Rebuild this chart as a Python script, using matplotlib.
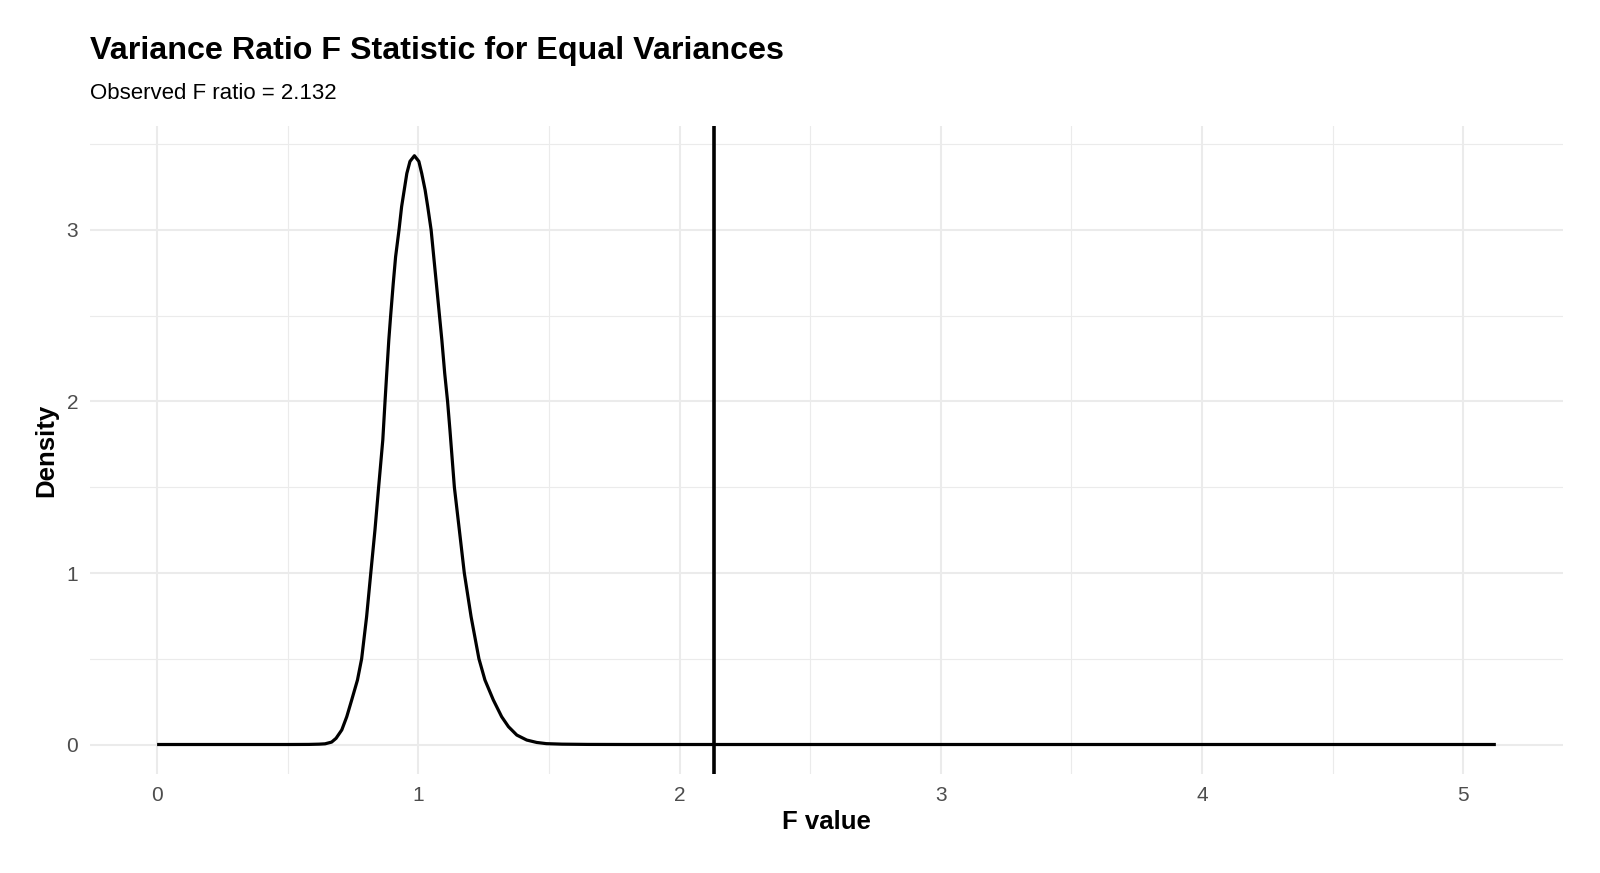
import matplotlib
matplotlib.use("Agg")
import matplotlib.pyplot as plt
from matplotlib.ticker import MultipleLocator

plt.rcParams['font.family'] = ['Liberation Sans', 'DejaVu Sans']

# Density curve values
f_values = [0.0, 0.5, 0.58, 0.62, 0.643, 0.668, 0.685, 0.707, 0.726, 0.745, 0.767,
            0.783, 0.802, 0.818, 0.834, 0.848, 0.864, 0.8725, 0.879, 0.887, 0.894,
            0.904, 0.913, 0.926, 0.936, 0.946, 0.956, 0.968, 0.985, 1.002, 1.013,
            1.026, 1.036, 1.049, 1.059, 1.069, 1.081, 1.090, 1.101, 1.112, 1.121,
            1.138, 1.157, 1.176, 1.202, 1.232, 1.255, 1.287, 1.319, 1.345, 1.377,
            1.415, 1.453, 1.49, 1.55, 1.65, 1.8, 5.125]
density = [0.0, 0.0, 0.0005, 0.002, 0.004, 0.014, 0.036, 0.085, 0.162, 0.26, 0.376,
           0.5, 0.745, 1.0, 1.251, 1.5, 1.776, 2.0, 2.164, 2.359, 2.5,
           2.689, 2.844, 3.0, 3.136, 3.233, 3.33, 3.40, 3.433, 3.40, 3.33,
           3.233, 3.136, 3.0, 2.844, 2.689, 2.5, 2.359, 2.164, 2.0, 1.834,
           1.5, 1.251, 1.0, 0.745, 0.5, 0.376, 0.26, 0.162, 0.104, 0.055,
           0.026, 0.012, 0.005, 0.002, 0.0005, 0.0, 0.0]
observed_f = 2.132

title = "Variance Ratio F Statistic for Equal Variances"
subtitle = f"Observed F ratio = {observed_f}"
x_label = "F value"
y_label = "Density"

W, H = 1600, 873
fig = plt.figure(figsize=(W / 100, H / 100), dpi=100)
ax = fig.add_axes([0.0564, 0.1134, 0.9203, 0.742])

ax.plot(f_values, density, color='black', lw=2.3, solid_joinstyle='round',
        solid_capstyle='butt', zorder=3)
ax.axvline(observed_f, color='black', lw=2.6, zorder=4)

ax.set_xlim(-0.256, 5.381)
ax.set_ylim(-0.172, 3.605)

ax.xaxis.set_major_locator(MultipleLocator(1))
ax.xaxis.set_minor_locator(MultipleLocator(0.5))
ax.yaxis.set_major_locator(MultipleLocator(1))
ax.yaxis.set_minor_locator(MultipleLocator(0.5))

ax.grid(which='major', color='#EBEBEB', lw=1.5, zorder=0)
ax.grid(which='minor', color='#EBEBEB', lw=0.8, zorder=0)
ax.set_axisbelow(True)
for s in ax.spines.values():
    s.set_visible(False)

ax.tick_params(which='both', length=0)
ax.tick_params(axis='x', pad=8.6, labelsize=15, labelcolor='#4D4D4D')
ax.tick_params(axis='y', pad=8.6, labelsize=15, labelcolor='#4D4D4D')

ax.set_xlabel(x_label, fontsize=18.5, fontweight='bold', va='center')
ax.xaxis.set_label_coords(0.5, (774 - 822.5) / 647.8)
ax.set_ylabel(y_label, fontsize=18.5, fontweight='bold', va='center')
ax.yaxis.set_label_coords((46 - 90.2) / 1472.4, 0.5)

fig.text(0.0564, 1 - 59.2 / H, title, fontsize=23.2, fontweight='bold',
         ha='left', va='baseline')
fig.text(0.0564, 1 - 99 / H, subtitle, fontsize=16, ha='left', va='baseline')

fig.savefig("out.png", dpi=100, facecolor='white')
